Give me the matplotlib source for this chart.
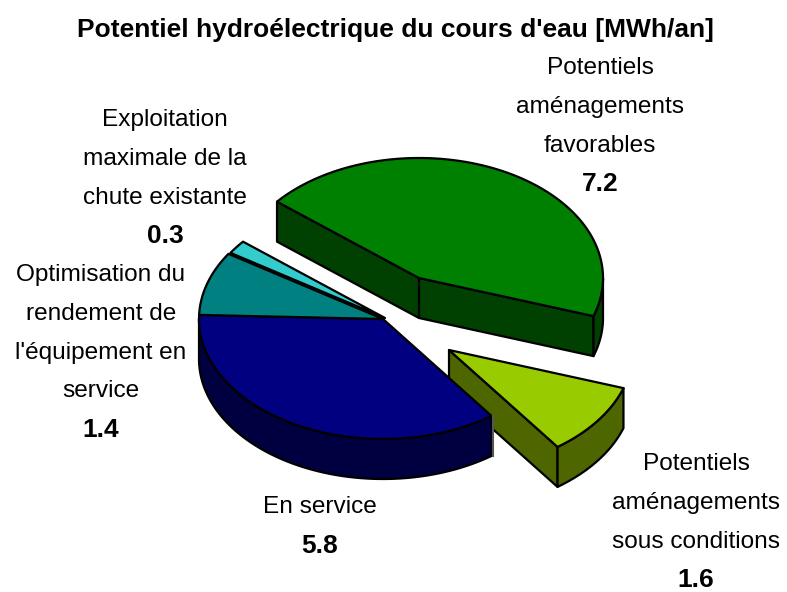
import numpy as np
import matplotlib
matplotlib.use("Agg")
import matplotlib.pyplot as plt
from matplotlib.patches import Polygon

plt.rcParams['font.family'] = ['Liberation Sans', 'DejaVu Sans']

title = "Potentiel hydroélectrique du cours d'eau [MWh/an]"
categories = ["Potentiels\naménagements\nfavorables",
              "Potentiels\naménagements\nsous conditions",
              "En service",
              "Optimisation du\nrendement de\nl'équipement en\nservice",
              "Exploitation\nmaximale de la\nchute existante"]
values = [7.2, 1.6, 5.8, 1.4, 0.3]
value_labels = ["7.2", "1.6", "5.8", "1.4", "0.3"]
top_colors = ["#008000", "#99CC00", "#000080", "#008080", "#33CCCC"]
side_colors = ["#004000", "#4D6600", "#000040", "#004040", "#1A6666"]
apexes = [(419, 278), (449, 350), (383, 319), (383, 319), (385, 318)]
separate = [True, True, False, False, False]
label_centers = [(600, 68), (696, 464), (320, 507), (101, 275), (165, 120)]

START = 309.5   # clockwise from 12 o'clock
RX, RY, DEPTH = 184, 120, 40
LINE_H = 38.8

fig = plt.figure(figsize=(7.87, 5.92), dpi=100)
ax = fig.add_axes([0, 0, 1, 1])
ax.set_xlim(0, 787)
ax.set_ylim(592, 0)
ax.axis('off')


def pt(apex, deg):
    t = np.radians(deg)
    return apex[0] + RX * np.sin(t), apex[1] - RY * np.cos(t)


def arc(apex, a, b):
    ts = np.linspace(a, b, max(int(abs(b - a)) * 2, 2))
    return [pt(apex, t) for t in ts]


def down(points):
    return [(x, y + DEPTH) for x, y in points]


lw = 1.6
kw = dict(edgecolor='black', linewidth=lw, joinstyle='round')
total = sum(values)
a = START
for v, apex, top, side, sep in zip(values, apexes, top_colors, side_colors, separate):
    b = a + 360 * v / total
    # radial walls: only on exploded slices, and only those facing the viewer
    if sep:
        for ang, facing in ((a, np.sin(np.radians(a)) < 0), (b, np.sin(np.radians(b)) > 0)):
            if facing:
                p = pt(apex, ang)
                q = [apex, p, (p[0], p[1] + DEPTH), (apex[0], apex[1] + DEPTH)]
                ax.add_patch(Polygon(q, closed=True, facecolor=side, **kw))
    # outer wall: the part of the rim in the front half
    for k in (0, 360):
        l2, h2 = max(a, 90 + k), min(b, 270 + k)
        if h2 > l2:
            rim = arc(apex, l2, h2)
            ax.add_patch(Polygon(rim + down(rim)[::-1], closed=True, facecolor=side, **kw))
            if not sep:
                x0, y0 = rim[0]
                ax.plot([x0 + 1.5, x0 + 1.5], [y0, y0 + DEPTH], color='#555555', lw=1.5, zorder=3)
    ax.add_patch(Polygon([apex] + arc(apex, a, b), closed=True, facecolor=top, **kw))
    a = b

fs = 17.6
fs_bold = 19
for cat, val, (cx, cy) in zip(categories, value_labels, label_centers):
    lines = cat.split("\n")
    for i, line in enumerate(lines):
        ax.text(cx, cy + i * LINE_H, line, ha='center', va='center', fontsize=fs,
                color='black', zorder=5)
    ax.text(cx, cy + len(lines) * LINE_H, val, ha='center', va='center', fontsize=fs_bold,
            fontweight='bold', color='black', zorder=5)

ax.text(395, 30, title, ha='center', va='center', fontsize=fs_bold, fontweight='bold', color='black')

fig.savefig("out.png", dpi=100, facecolor='white')
